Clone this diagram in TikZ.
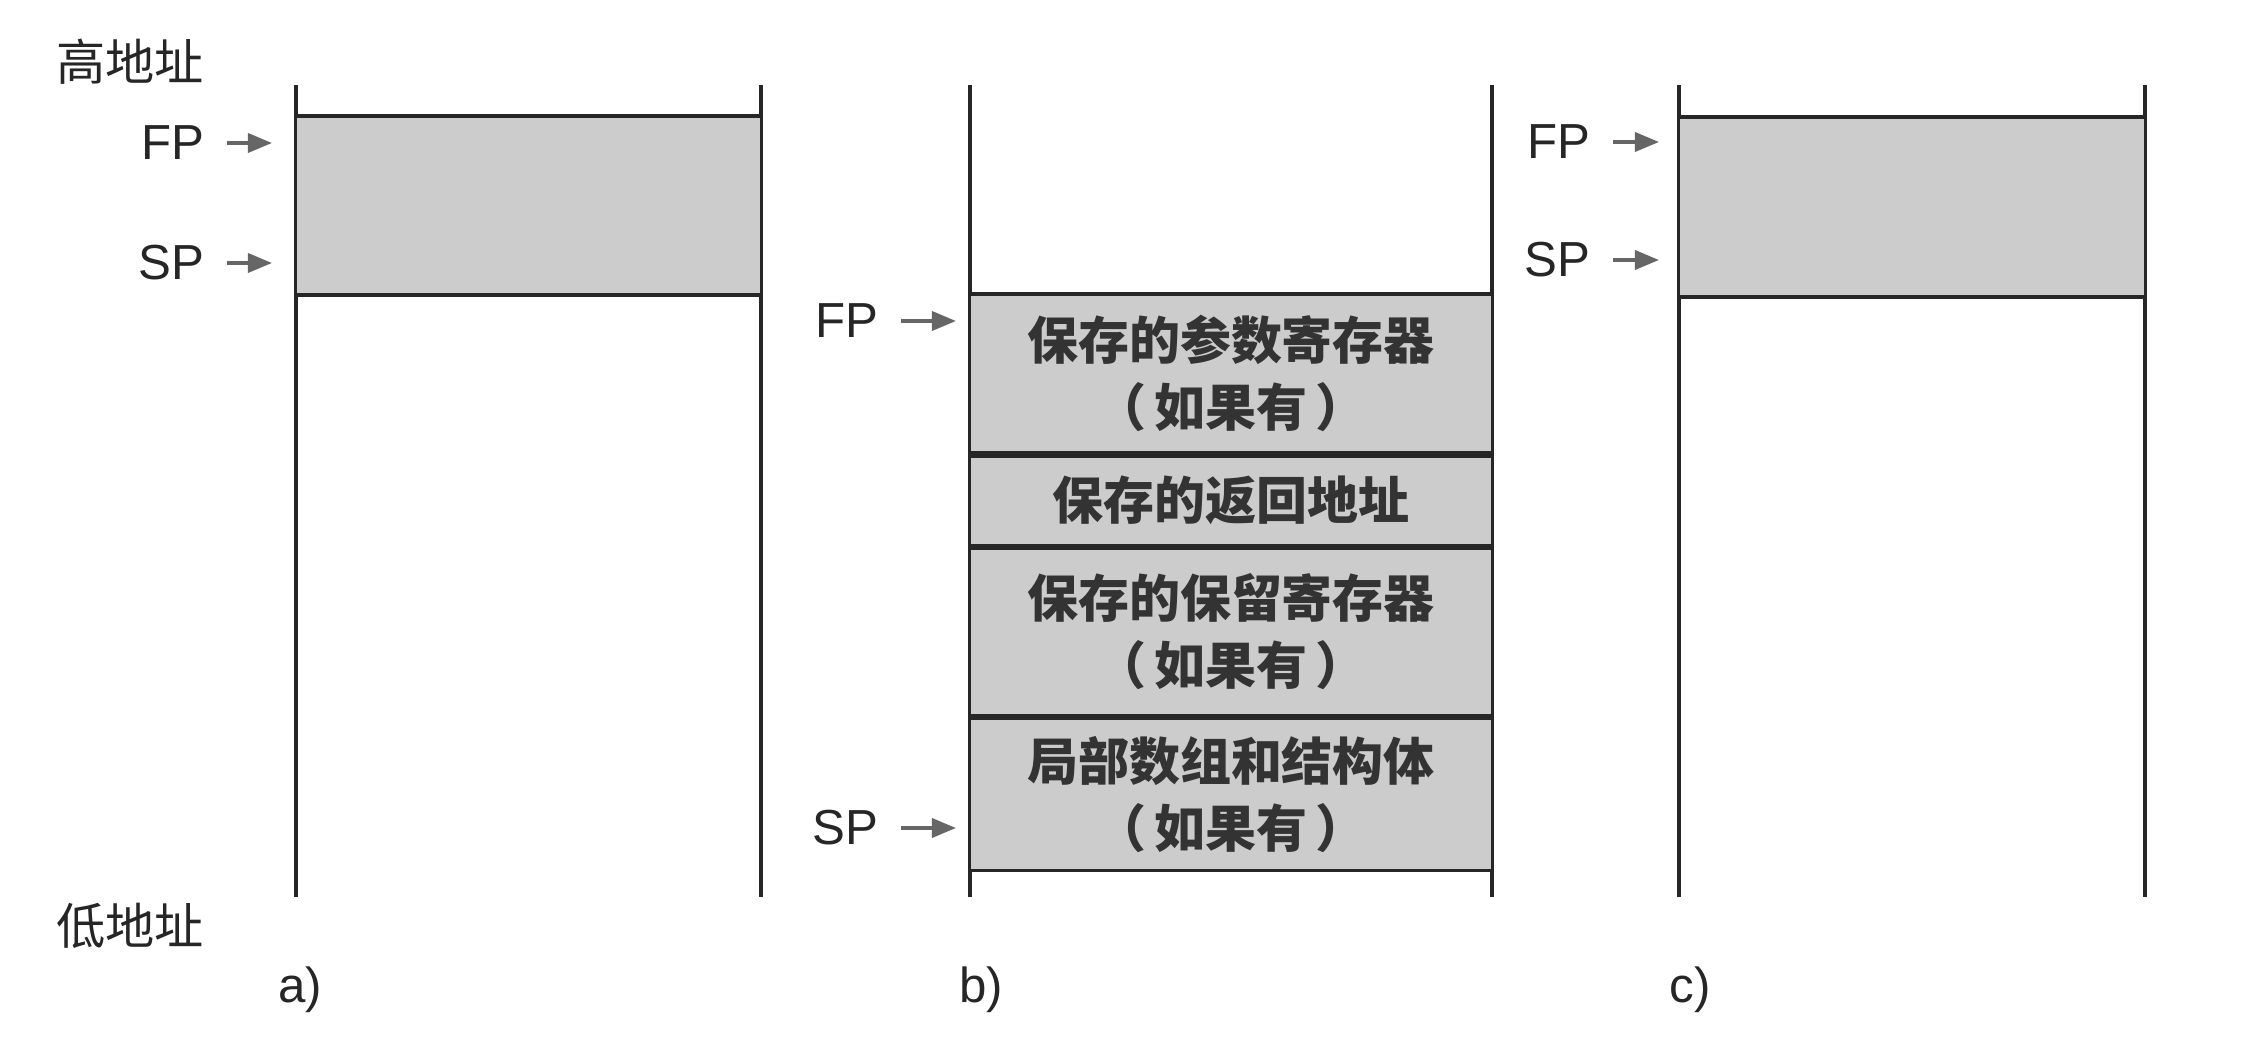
\documentclass[tikz,border=0pt]{standalone}
\usepackage{fontspec}
\setmainfont{Liberation Sans}
\newfontfamily\cjk{Noto Sans CJK SC}
\usetikzlibrary{positioning, arrows.meta}
\definecolor{framegray}{rgb}{.80,.80,.80}
\definecolor{ptrgray}{rgb}{.40,.40,.40}
\tikzset{wall/.style={draw=black!85,line width=0.9pt}}
\tikzset{frame/.style={wall,fill=framegray,inner sep=0pt,align=center,text=black!80,font=\cjk\bfseries\fontsize{14.5}{19}\selectfont}}
\tikzset{ptr/.style={font=\fontsize{14}{17}\selectfont,inner sep=2pt,text=black!85}}
\tikzset{ptrline/.style={draw=ptrgray,line width=1pt,-{Triangle[length=2.4mm,width=1.9mm]},shorten <=1.5mm}}
\tikzset{addr/.style={font=\cjk\fontsize{14}{17}\selectfont,inner sep=0pt,text=black!85}}
\tikzset{tag/.style={font=\fontsize{14}{17}\selectfont,inner sep=0pt,text=black!85}}

\begin{document}
\begin{tikzpicture}[x=0.01cm,y=-0.01cm]
\useasboundingbox (0,0) rectangle (2250,1040);

% Address labels
\node[addr] (high) at (130,62) {高地址};
\node[addr] (low) at (130,926) {低地址};

% Stack a)
\draw[wall] (296,85) -- (296,897);
\draw[wall] (761,85) -- (761,897);
\node[frame,minimum width=4.65cm,minimum height=1.79cm] (fa) at (528.5,205.5) {};
\node[ptr,anchor=east] (fpA) at (212,143) {FP};
\node[ptr,anchor=east] (spA) at (212,263) {SP};
\coordinate (fpAtip) at (272,143);
\coordinate (spAtip) at (272,263);
\path[ptrline] (fpA) -- (fpAtip);
\path[ptrline] (spA) -- (spAtip);
\node[tag] (capA) at (300,990) {a)};

% Stack b)
\draw[wall] (970,85) -- (970,897);
\draw[wall] (1492,85) -- (1492,897);
\node[frame,minimum width=5.22cm,minimum height=1.59cm] (argregs) at (1231,373.5) {保存的参数寄存器\\（\,如果有\,）};
\node[frame,minimum width=5.22cm,minimum height=0.89cm,below=0pt of argregs] (retaddr) {保存的返回地址};
\node[frame,minimum width=5.22cm,minimum height=1.67cm,below=0pt of retaddr] (savedregs) {保存的保留寄存器\\（\,如果有\,）};
\node[frame,minimum width=5.22cm,minimum height=1.52cm,below=0pt of savedregs] (locals) {局部数组和结构体\\（\,如果有\,）};
\node[ptr,anchor=east] (fpB) at (886,321) {FP};
\node[ptr,anchor=east] (spB) at (886,828) {SP};
\coordinate (fpBtip) at (956,321);
\coordinate (spBtip) at (956,828);
\path[ptrline] (fpB) -- (fpBtip);
\path[ptrline] (spB) -- (spBtip);
\node[tag] (capB) at (981,990) {b)};

% Stack c)
\draw[wall] (1679,85) -- (1679,897);
\draw[wall] (2145,85) -- (2145,897);
\node[frame,minimum width=4.66cm,minimum height=1.80cm] (fc) at (1912,207) {};
\node[ptr,anchor=east] (fpC) at (1598,142) {FP};
\node[ptr,anchor=east] (spC) at (1598,260) {SP};
\coordinate (fpCtip) at (1659,142);
\coordinate (spCtip) at (1659,260);
\path[ptrline] (fpC) -- (fpCtip);
\path[ptrline] (spC) -- (spCtip);
\node[tag] (capC) at (1690,990) {c)};

\end{tikzpicture}
\end{document}
